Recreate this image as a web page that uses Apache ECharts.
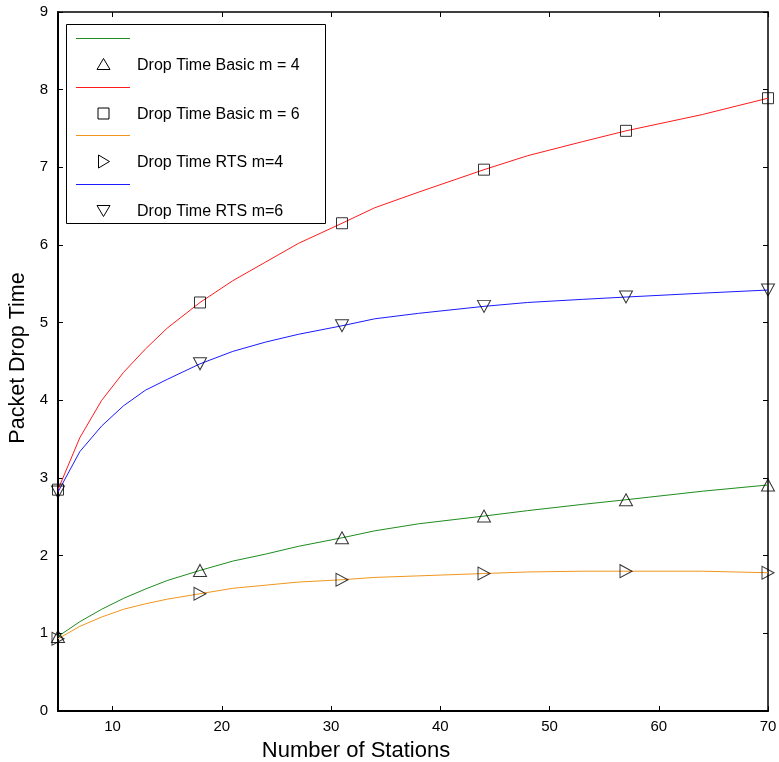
<!DOCTYPE html>
<html style="height: 100%">
<head>
  <meta charset="utf-8">
  <script src="https://cdn.jsdelivr.net/npm/echarts@6/dist/echarts.min.js"></script>
  <style>
    body { margin: 0; background: #fff; }
    #main { width: 779px; height: 762px; }
  </style>
</head>
<body>
<div id="main"></div>
<script type="text/javascript">
// stations sampled along the curves
var stations = [5, 7, 9, 11, 13, 15, 18, 21, 24, 27, 31, 34, 38, 44, 48, 53, 57, 64, 70];
// stations where markers are drawn
var markerStations = [5, 18, 31, 44, 57, 70];

var basicM4 = [0.96, 1.15, 1.31, 1.45, 1.57, 1.68, 1.81, 1.93, 2.02, 2.12, 2.23, 2.32, 2.41, 2.51, 2.58, 2.66, 2.72, 2.83, 2.91];
var basicM6 = [2.85, 3.52, 4.00, 4.36, 4.66, 4.93, 5.26, 5.54, 5.78, 6.02, 6.28, 6.48, 6.68, 6.97, 7.15, 7.33, 7.47, 7.68, 7.89];
var rtsM4   = [0.93, 1.09, 1.21, 1.31, 1.38, 1.44, 1.51, 1.58, 1.62, 1.66, 1.69, 1.72, 1.74, 1.77, 1.79, 1.80, 1.80, 1.80, 1.78];
var rtsM6   = [2.82, 3.34, 3.67, 3.93, 4.13, 4.27, 4.47, 4.63, 4.75, 4.85, 4.96, 5.05, 5.12, 5.21, 5.26, 5.30, 5.33, 5.38, 5.42];

var names = ['Drop Time Basic m = 4', 'Drop Time Basic m = 6', 'Drop Time RTS m=4', 'Drop Time RTS m=6'];
var colors = ['#1e8c1e', '#ff1a1a', '#f0961e', '#1a1aff'];
var xTicks = [10, 20, 30, 40, 50, 60, 70];

var font = 'Liberation Sans, Arial, Helvetica, sans-serif';

function pairs(vals) {
    return stations.map(function (s, i) { return [s, vals[i]]; });
}
function markerPairs(vals) {
    return markerStations.map(function (s) { return [s, vals[stations.indexOf(s)]]; });
}

var allSeries = [basicM4, basicM6, rtsM4, rtsM6];
var symbols = [
    { symbol: 'triangle', size: [13, 12], rotate: 0 },
    { symbol: 'rect', size: 11, rotate: 0 },
    { symbol: 'triangle', size: [13, 12], rotate: -90 },
    { symbol: 'triangle', size: [13, 12], rotate: 180 }
];

var series = [];
allSeries.forEach(function (vals, i) {
    series.push({
        name: names[i] + ' line',
        type: 'line',
        data: pairs(vals),
        showSymbol: false,
        symbol: 'none',
        lineStyle: { color: colors[i], width: 1 },
        silent: true,
        z: 2
    });
});
allSeries.forEach(function (vals, i) {
    series.push({
        name: names[i],
        type: 'scatter',
        data: markerPairs(vals),
        symbol: symbols[i].symbol,
        symbolSize: symbols[i].size,
        symbolRotate: symbols[i].rotate,
        itemStyle: { color: 'rgba(0,0,0,0)', borderColor: '#000', borderWidth: 1 },
        silent: true,
        z: 3
    });
});

// hand-drawn legend box (two rows per entry, like the original figure)
var legendEls = [{
    type: 'rect',
    shape: { x: 66.5, y: 24.5, width: 259, height: 199 },
    style: { fill: '#fff', stroke: '#000', lineWidth: 1 },
    z: 10
}];
var rowTop = [38, 87, 135, 184];
var markerShapes = [
    [[0, -6], [6.5, 5], [-6.5, 5]],
    [[-5.5, -5.5], [5.5, -5.5], [5.5, 5.5], [-5.5, 5.5]],
    [[-5, -6.5], [6, 0], [-5, 6.5]],
    [[0, 6], [6.5, -5], [-6.5, -5]]
];
rowTop.forEach(function (y, i) {
    legendEls.push({
        type: 'line',
        shape: { x1: 76, y1: y + 0.5, x2: 130, y2: y + 0.5 },
        style: { stroke: colors[i], lineWidth: 1 },
        z: 11
    });
    legendEls.push({
        type: 'polygon',
        x: 103.5, y: y + 26.5,
        shape: { points: markerShapes[i] },
        style: { fill: 'none', stroke: '#000', lineWidth: 1 },
        z: 11
    });
    legendEls.push({
        type: 'text',
        x: 137, y: y + 28,
        style: { text: names[i], fill: '#000', font: '16px ' + font, verticalAlign: 'middle' },
        z: 11
    });
});

var chart = echarts.init(document.getElementById('main'));
chart.setOption({
    backgroundColor: '#fff',
    animation: false,
    grid: { left: 58, right: 11, top: 12, bottom: 51, outerBoundsMode: 'none', containLabel: false },
    xAxis: [{
        type: 'value',
        min: 5, max: 70,
        name: 'Number of Stations',
        nameLocation: 'middle',
        nameGap: 29,
        nameTextStyle: { fontSize: 22, color: '#000', fontFamily: font, padding: [0, 114, 0, 0] },
        axisLine: { onZero: false, lineStyle: { color: '#000', width: 2 } },
        axisTick: { inside: true, length: 5, customValues: xTicks, lineStyle: { color: '#000' } },
        axisLabel: { customValues: xTicks, color: '#000', fontSize: 15, fontFamily: font, margin: 8 },
        splitLine: { show: false }
    }, {
        type: 'value',
        position: 'top',
        min: 5, max: 70,
        axisLine: { show: true, onZero: false, lineStyle: { color: '#000', width: 1.5 } },
        axisTick: { inside: true, length: 5, customValues: xTicks, lineStyle: { color: '#000' } },
        axisLabel: { show: false },
        splitLine: { show: false }
    }],
    yAxis: [{
        type: 'value',
        min: 0, max: 9, interval: 1,
        name: 'Packet Drop Time',
        nameLocation: 'middle',
        nameGap: 24,
        nameTextStyle: { fontSize: 21.5, color: '#000', fontFamily: font, padding: [0, 0, 0, 7] },
        axisLine: { show: true, onZero: false, lineStyle: { color: '#000', width: 2 } },
        axisTick: { show: true, inside: true, length: 5, lineStyle: { color: '#000' } },
        axisLabel: { color: '#000', fontSize: 15, fontFamily: font, margin: 10 },
        splitLine: { show: false }
    }, {
        type: 'value',
        position: 'right',
        min: 0, max: 9, interval: 1,
        axisLine: { show: true, onZero: false, lineStyle: { color: '#000', width: 1.5 } },
        axisTick: { show: true, inside: true, length: 5, lineStyle: { color: '#000' } },
        axisLabel: { show: false },
        splitLine: { show: false }
    }],
    series: series,
    graphic: legendEls
});
</script>
</body>
</html>
